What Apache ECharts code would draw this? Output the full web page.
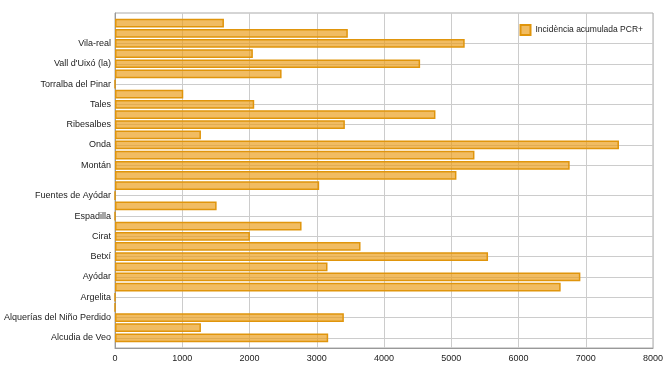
<!DOCTYPE html>
<html>
<head>
<meta charset="utf-8">
<script src="https://cdn.jsdelivr.net/npm/echarts@6/dist/echarts.min.js"></script>
<style>
  html, body { margin: 0; padding: 0; background: #fff; }
  #main { width: 670px; height: 377px; }
</style>
</head>
<body>
<div id="main"></div>
<script>
// municipios, de abajo a arriba
var municipios = [
    'Alcudia de Veo', 'Almenara', 'Alquerías del Niño Perdido', 'Arañuel',
    'Argelita', 'Artana', 'Ayódar', 'Azuébar', 'Betxí', 'Burriana',
    'Cirat', 'Eslida', 'Espadilla', 'Fanzara', 'Fuentes de Ayódar',
    'Lludient', 'Moncofa', 'Montán', 'Nules', 'Onda', 'Puebla de Arenoso',
    'Ribesalbes', 'Sueras', 'Tales', 'Toga', 'Torralba del Pinar',
    'Torrechiva', "Vall d'Uixó (la)", 'Vallat', 'Vila-real',
    'Vilavella (la)', 'Villamalur'
];
var incidencia = [
    3170, 1278, 3403, 0,
    0, 6627, 6920, 3160, 5547, 3651,
    2006, 2774, 0, 1511, 0,
    3036, 5077, 6761, 5345, 7494, 1278,
    3418, 4765, 2070, 1015, 0,
    2477, 4537, 2050, 5200,
    3462, 1620
];
// etiquetas visibles del eje
var etiquetas = [
    'Alcudia de Veo', 'Alquerías del Niño Perdido', 'Argelita', 'Ayódar',
    'Betxí', 'Cirat', 'Espadilla', 'Fuentes de Ayódar', 'Montán', 'Onda',
    'Ribesalbes', 'Tales', 'Torralba del Pinar', "Vall d'Uixó (la)", 'Vila-real'
];
var ticksX = [0, 1000, 2000, 3000, 4000, 5000, 6000, 7000, 8000];

function visible(index, value) {
    return etiquetas.indexOf(value) >= 0;
}

var myChart = echarts.init(document.getElementById('main'));
var option = {
    animation: false,
    textStyle: { fontFamily: '"Liberation Sans", Arial, sans-serif' },
    grid: {
        top: 13,
        bottom: 29,
        left: 115,
        right: 17,
        containLabel: false,
        outerBoundsMode: 'none',
        show: true,
        borderColor: '#aaa',
        borderWidth: 1
    },
    legend: {
        top: 19,
        right: 22,
        icon: 'rect',
        itemWidth: 10,
        itemHeight: 10,
        textStyle: { fontSize: 8.5, color: '#222' }
    },
    xAxis: {
        type: 'value',
        min: ticksX[0],
        max: ticksX[ticksX.length - 1],
        interval: ticksX[1] - ticksX[0],
        axisLine: { show: true, lineStyle: { color: '#999' } },
        axisTick: { show: false },
        axisLabel: {
            fontSize: 9,
            color: '#222',
            margin: 6,
            formatter: function (v) { return String(v); }
        },
        splitLine: { lineStyle: { color: '#ccc' } }
    },
    yAxis: {
        type: 'category',
        data: municipios,
        boundaryGap: false,
        min: -1,
        max: municipios.length,
        axisLine: { show: true, lineStyle: { color: '#999' } },
        axisTick: { show: false },
        axisLabel: {
            interval: visible,
            fontSize: 9,
            color: '#222',
            margin: 4
        },
        splitLine: {
            show: true,
            interval: visible,
            lineStyle: { color: '#ccc' }
        }
    },
    series: [{
        name: 'Incidència acumulada PCR+',
        type: 'bar',
        data: incidencia,
        barWidth: '86%',
        itemStyle: {
            color: 'rgba(234,156,24,0.68)',
            borderColor: '#e0950c',
            borderWidth: 1.5
        }
    }]
};
myChart.setOption(option);
</script>
</body>
</html>
